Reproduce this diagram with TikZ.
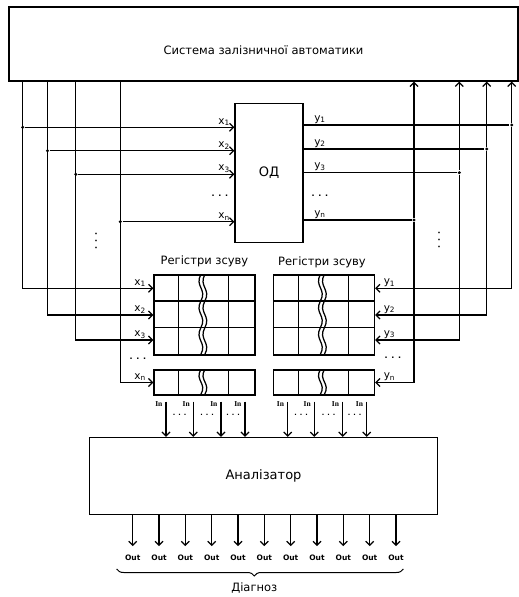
\documentclass[tikz,border=0pt]{standalone}
\usepackage{fontspec}
\setmainfont{DejaVu Sans}
\newfontfamily\inserif{Liberation Serif}
\usetikzlibrary{arrows.meta, positioning, decorations.pathreplacing}

\newcommand{\idx}[2]{#1\textsubscript{#2}}
% one row of register cells: #1 = top, #2 = height
\newcommand{\regrow}[2]{%
  \draw (25.3,#1) -- ++(0,#2) (75.3,#1) -- ++(0,#2);
  \draw (47.5,#1) .. controls (41,#1+0.45*#2) and (54,#1+0.55*#2) .. (47.5,#1+#2);
  \draw (51.5,#1) .. controls (45,#1+0.45*#2) and (58,#1+0.55*#2) .. (51.5,#1+#2);
}

\begin{document}
\begin{tikzpicture}[x=1pt, y=-1pt, line width=1.25pt,
    >={Straight Barb[length=4pt,width=8pt]}]
  % Define styles
  \tikzset{
    box/.style={draw, rectangle, inner sep=0pt},
    sig/.style={font=\fontsize{10.5}{10.5}\selectfont, inner sep=1pt},
    title/.style={font=\fontsize{11.5}{11.5}\selectfont, inner sep=0pt},
    pin/.style={font=\inserif\bfseries\fontsize{7.5}{7.5}\selectfont, inner sep=0pt},
    outlbl/.style={font=\bfseries\fontsize{7.5}{7.5}\selectfont, inner sep=0pt},
    jdot/.style={circle, fill, inner sep=0pt, minimum size=3.4pt},
    gap/.style={font=\bfseries\fontsize{8}{8}\selectfont, inner sep=0pt}
  }
  \useasboundingbox (0,0) rectangle (519,597);

  % Blocks
  \node[box, minimum width=509pt, minimum height=74pt,
        label={[title, yshift=-6pt]center:Система залізничної автоматики}] (sys) at (263.5,44) {};
  \node[box, minimum width=68pt, minimum height=139pt, font=\fontsize{13}{13}\selectfont] (od) at (269,173) {ОД};
  \node[box, minimum width=348pt, minimum height=77pt, font=\fontsize{13}{13}\selectfont] (an) at (263.5,476) {Аналізатор};

  % Shift registers
  \node[box, minimum width=101pt, minimum height=80pt] (regx) at (204.5,315) {};
  \node[box, minimum width=101pt, minimum height=25pt] (regxn) at (204.5,382.5) {};
  \node[box, minimum width=101pt, minimum height=80pt] (regy) at (324,315) {};
  \node[box, minimum width=101pt, minimum height=25pt] (regyn) at (324,382.5) {};
  \node[title, above=7pt of regx] (tx) {Регістри зсуву};
  \node[title, above=6pt of regy, xshift=-2pt] (ty) {Регістри зсуву};
  \foreach \r in {regx, regy} {
    \begin{scope}[shift={(\r.north west)}]
      \draw (0,26.7) -- (101,26.7) (0,53.3) -- (101,53.3);
      \regrow{0}{26.7} \regrow{26.7}{26.6} \regrow{53.3}{26.7}
    \end{scope}
  }
  \foreach \r in {regxn, regyn} {
    \begin{scope}[shift={(\r.north west)}] \regrow{0}{25} \end{scope}
  }

  % Register rows
  \coordinate (r1) at (0,288.3);
  \coordinate (r2) at (0,315);
  \coordinate (r3) at (0,340);
  \coordinate (rn) at (0,382.5);

  % Branch points
  \node[jdot] (j1) at (22.7,127.3) {};
  \node[jdot] (j2) at (47.5,150.7) {};
  \node[jdot] (j3) at (75.8,174.3) {};
  \node[jdot] (jn) at (120.3,221.7) {};
  \node[jdot] (k1) at (511.7,125) {};
  \node[jdot] (k2) at (486.7,149) {};
  \node[jdot] (k3) at (459.3,172.7) {};
  \node[jdot] (kn) at (414,220) {};

  % Inputs x
  \draw[->] (sys.south -| j1) |- (regx.west |- r1) node[sig, above left, xshift=-6pt] {\idx{x}{1}};
  \draw[->] (sys.south -| j2) |- (regx.west |- r2) node[sig, above left, xshift=-6pt] {\idx{x}{2}};
  \draw[->] (sys.south -| j3) |- (regx.west |- r3) node[sig, above left, xshift=-6pt] {\idx{x}{3}};
  \draw[->] (sys.south -| jn) |- (regxn.west |- rn) node[sig, above left, xshift=-6pt] {\idx{x}{n}};
  \draw[->] (j1) -- (od.west |- j1) node[sig, above left, xshift=-3pt] {\idx{x}{1}};
  \draw[->] (j2) -- (od.west |- j2) node[sig, above left, xshift=-3pt] {\idx{x}{2}};
  \draw[->] (j3) -- (od.west |- j3) node[sig, above left, xshift=-3pt] {\idx{x}{3}};
  \draw[->] (jn) -- (od.west |- jn) node[sig, above left, xshift=-3pt] {\idx{x}{n}};

  % Outputs y
  \draw (od.east |- k1) node[sig, above right, xshift=9pt] {\idx{y}{1}} -- (k1);
  \draw (od.east |- k2) node[sig, above right, xshift=9pt] {\idx{y}{2}} -- (k2);
  \draw (od.east |- k3) node[sig, above right, xshift=9pt] {\idx{y}{3}} -- (k3);
  \draw (od.east |- kn) node[sig, above right, xshift=9pt] {\idx{y}{n}} -- (kn);
  \draw[->] (k1) -- (sys.south -| k1);
  \draw[->] (k2) -- (sys.south -| k2);
  \draw[->] (k3) -- (sys.south -| k3);
  \draw[->] (kn) -- (sys.south -| kn);
  \draw[->] (k1) |- (regy.east |- r1) node[sig, above right, xshift=7pt] {\idx{y}{1}};
  \draw[->] (k2) |- (regy.east |- r2) node[sig, above right, xshift=7pt] {\idx{y}{2}};
  \draw[->] (k3) |- (regy.east |- r3) node[sig, above right, xshift=7pt] {\idx{y}{3}};
  \draw[->] (kn) |- (regyn.east |- rn) node[sig, above right, xshift=7pt] {\idx{y}{n}};

  % Gaps in the lists
  \node[gap] (g1) at (220,196) {. . .};
  \node[gap] (g2) at (320,196) {. . .};
  \node[gap] (g3) at (138,359) {. . .};
  \node[gap] (g4) at (393,358) {. . .};
  \node[gap, rotate=90] (g5) at (96,241) {. . .};
  \node[gap, rotate=90] (g6) at (439,240) {. . .};

  % Register outputs to the analyser
  \foreach \x in {166, 193.3, 221, 245} {
    \draw[->, shorten <=6pt] (regxn.south -| \x,0) node[pin, below left=5pt and 3pt] {In} -- (an.north -| \x,0);
  }
  \foreach \x in {287.7, 314.3, 342.7, 366.7} {
    \draw[->, shorten <=6pt] (regyn.south -| \x,0) node[pin, below left=5pt and 3pt] {In} -- (an.north -| \x,0);
  }
  \foreach \x in {179.7, 207, 233, 301, 328.5, 354.7} {
    \node[gap, font=\bfseries\fontsize{6.5}{6.5}\selectfont] at (\x,415) {. . .};
  }

  % Diagnosis
  \foreach \i [evaluate=\i as \xo using 132.7+26.33*\i] in {0,...,10} {
    \draw[->] (an.south -| \xo,0) -- ++(0,31) node[outlbl, below=8pt] {Out};
  }
  \draw[decorate, decoration={brace, mirror, amplitude=7pt, aspect=0.48}, line width=1pt]
    (116.7,569) -- (403.3,569) node[title, pos=0.48, below=13pt] (diag) {Діагноз};
\end{tikzpicture}
\end{document}
